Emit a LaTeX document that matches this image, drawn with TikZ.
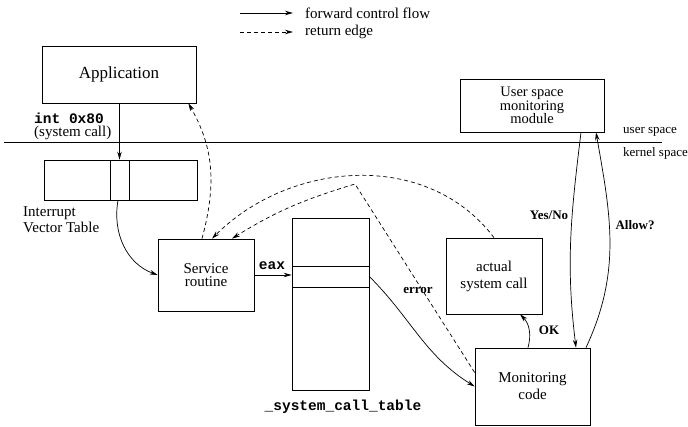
\documentclass[tikz,border=0pt]{standalone}
\usepackage{fontspec}
\setmainfont{Liberation Serif}
\setmonofont{Liberation Mono}
\usetikzlibrary{arrows.meta}
\tikzset{
  box/.style={draw, line width=0.7pt, align=center, inner sep=0pt, font=\fontsize{15}{13.5}\selectfont},
  cell/.style={draw, line width=0.7pt, inner sep=0pt},
  txt/.style={inner sep=0pt, font=\fontsize{15}{16}\selectfont},
  lbl/.style={inner sep=0pt, font=\fontsize{13}{14}\selectfont\bfseries},
  code/.style={inner sep=0pt, font=\fontsize{14.5}{15}\selectfont\ttfamily\bfseries},
  fwd/.style={line width=0.7pt, -{Stealth[length=8pt,width=4.5pt]}},
  ret/.style={fwd, dash pattern=on 4pt off 3pt}
}
\begin{document}
\begin{tikzpicture}[x=1pt,y=-1pt]
\useasboundingbox (0,0) rectangle (688,427);

% legend
\coordinate (l1a) at (240,13); \coordinate (l1b) at (293,13);
\coordinate (l2a) at (240,32); \coordinate (l2b) at (293,32);
\draw[fwd] (l1a) -- (l1b);
\draw[ret] (l2a) -- (l2b);
\node[txt, anchor=west] (leg1) at (305,13) {forward control flow};
\node[txt, anchor=west] (leg2) at (305,32) {return edge};

% separator
\coordinate (sepL) at (4,142); \coordinate (sepR) at (662,142);
\draw[line width=0.7pt] (sepL) -- (sepR);
\node[txt, font=\fontsize{13}{14}\selectfont, anchor=west] (us) at (623,132) {user space};
\node[txt, font=\fontsize{13}{14}\selectfont, anchor=west] (ks) at (623,153) {kernel space};

% boxes
\node[box, minimum width=154pt, minimum height=57pt, font=\fontsize{17}{18}\selectfont] (app) at (119,74.5) {Application};
\node[cell, minimum width=153pt, minimum height=40pt] (ivt) at (120.5,180) {};
\node[cell, minimum width=19pt, minimum height=40pt] (ivtslot) at (119.5,180) {};
\node[box, minimum width=96pt, minimum height=72pt] (sr) at (206,275) {Service\\routine};
\node[cell, minimum width=77pt, minimum height=172pt] (sct) at (330.5,304) {};
\node[cell, minimum width=77pt, minimum height=21pt] (slot) at (330.5,276.5) {};
\node[box, minimum width=96pt, minimum height=76pt, font=\fontsize{15}{17}\selectfont] (asc) at (494,276) {actual\\system call};
\node[box, minimum width=115pt, minimum height=77pt, font=\fontsize{15}{17}\selectfont] (mc) at (532.5,386.5) {Monitoring\\code};
\node[box, minimum width=144pt, minimum height=53pt, font=\fontsize{14.5}{13.3}\selectfont] (usm) at (532,105.5) {User space\\monitoring\\module};

% texts
\node[code, anchor=west] (int) at (34,118) {int 0x80};
\node[txt, anchor=west] (sc) at (34,133) {(system call)};
\node[txt, anchor=west, align=left, font=\fontsize{15}{16}\selectfont] (ivtl) at (23,220) {Interrupt\\Vector Table};
\node[code] (eax) at (272,266) {eax};
\node[code] (sctl) at (343,407) {\_system\_call\_table};
\node[lbl] (err) at (418,290) {error};
\node[lbl] (ok) at (549,330) {OK};
\node[lbl] (yn) at (549,215) {Yes/No};
\node[lbl] (allow) at (635,225) {Allow?};

% forward edges
\draw[fwd] (app.south -| ivtslot.north) -- (ivtslot.north);
\draw[fwd] ([xshift=-1.5pt]ivtslot.south) to[out=-100,in=160] (sr.west);
\draw[fwd] (sr.east) -- (sr.east -| sct.west);
\draw[fwd] (slot.east) to[out=-45,in=148] (mc.west);
\draw[fwd] ([xshift=-4.5pt]mc.north) to[out=75,in=-45] ([xshift=26pt]asc.south);
\draw[fwd] ([xshift=49pt]usm.south) to[out=-97,in=97] ([xshift=43.5pt]mc.north);
\draw[fwd] ([xshift=53.5pt]mc.north) to[out=65,in=-80] ([xshift=64pt]usm.south);

% return edges
\draw[ret] ([xshift=-4pt]sr.north) to[out=75,in=-60] ([xshift=-8pt]app.south east);
\draw[ret] (asc.north) to[out=127,in=45] ([xshift=6pt]sr.north);
\coordinate (errbend) at (355,184);
\draw[ret] ([yshift=14pt]mc.west) -- (errbend) to[out=197,in=32] ([xshift=26pt]sr.north);
\end{tikzpicture}
\end{document}
